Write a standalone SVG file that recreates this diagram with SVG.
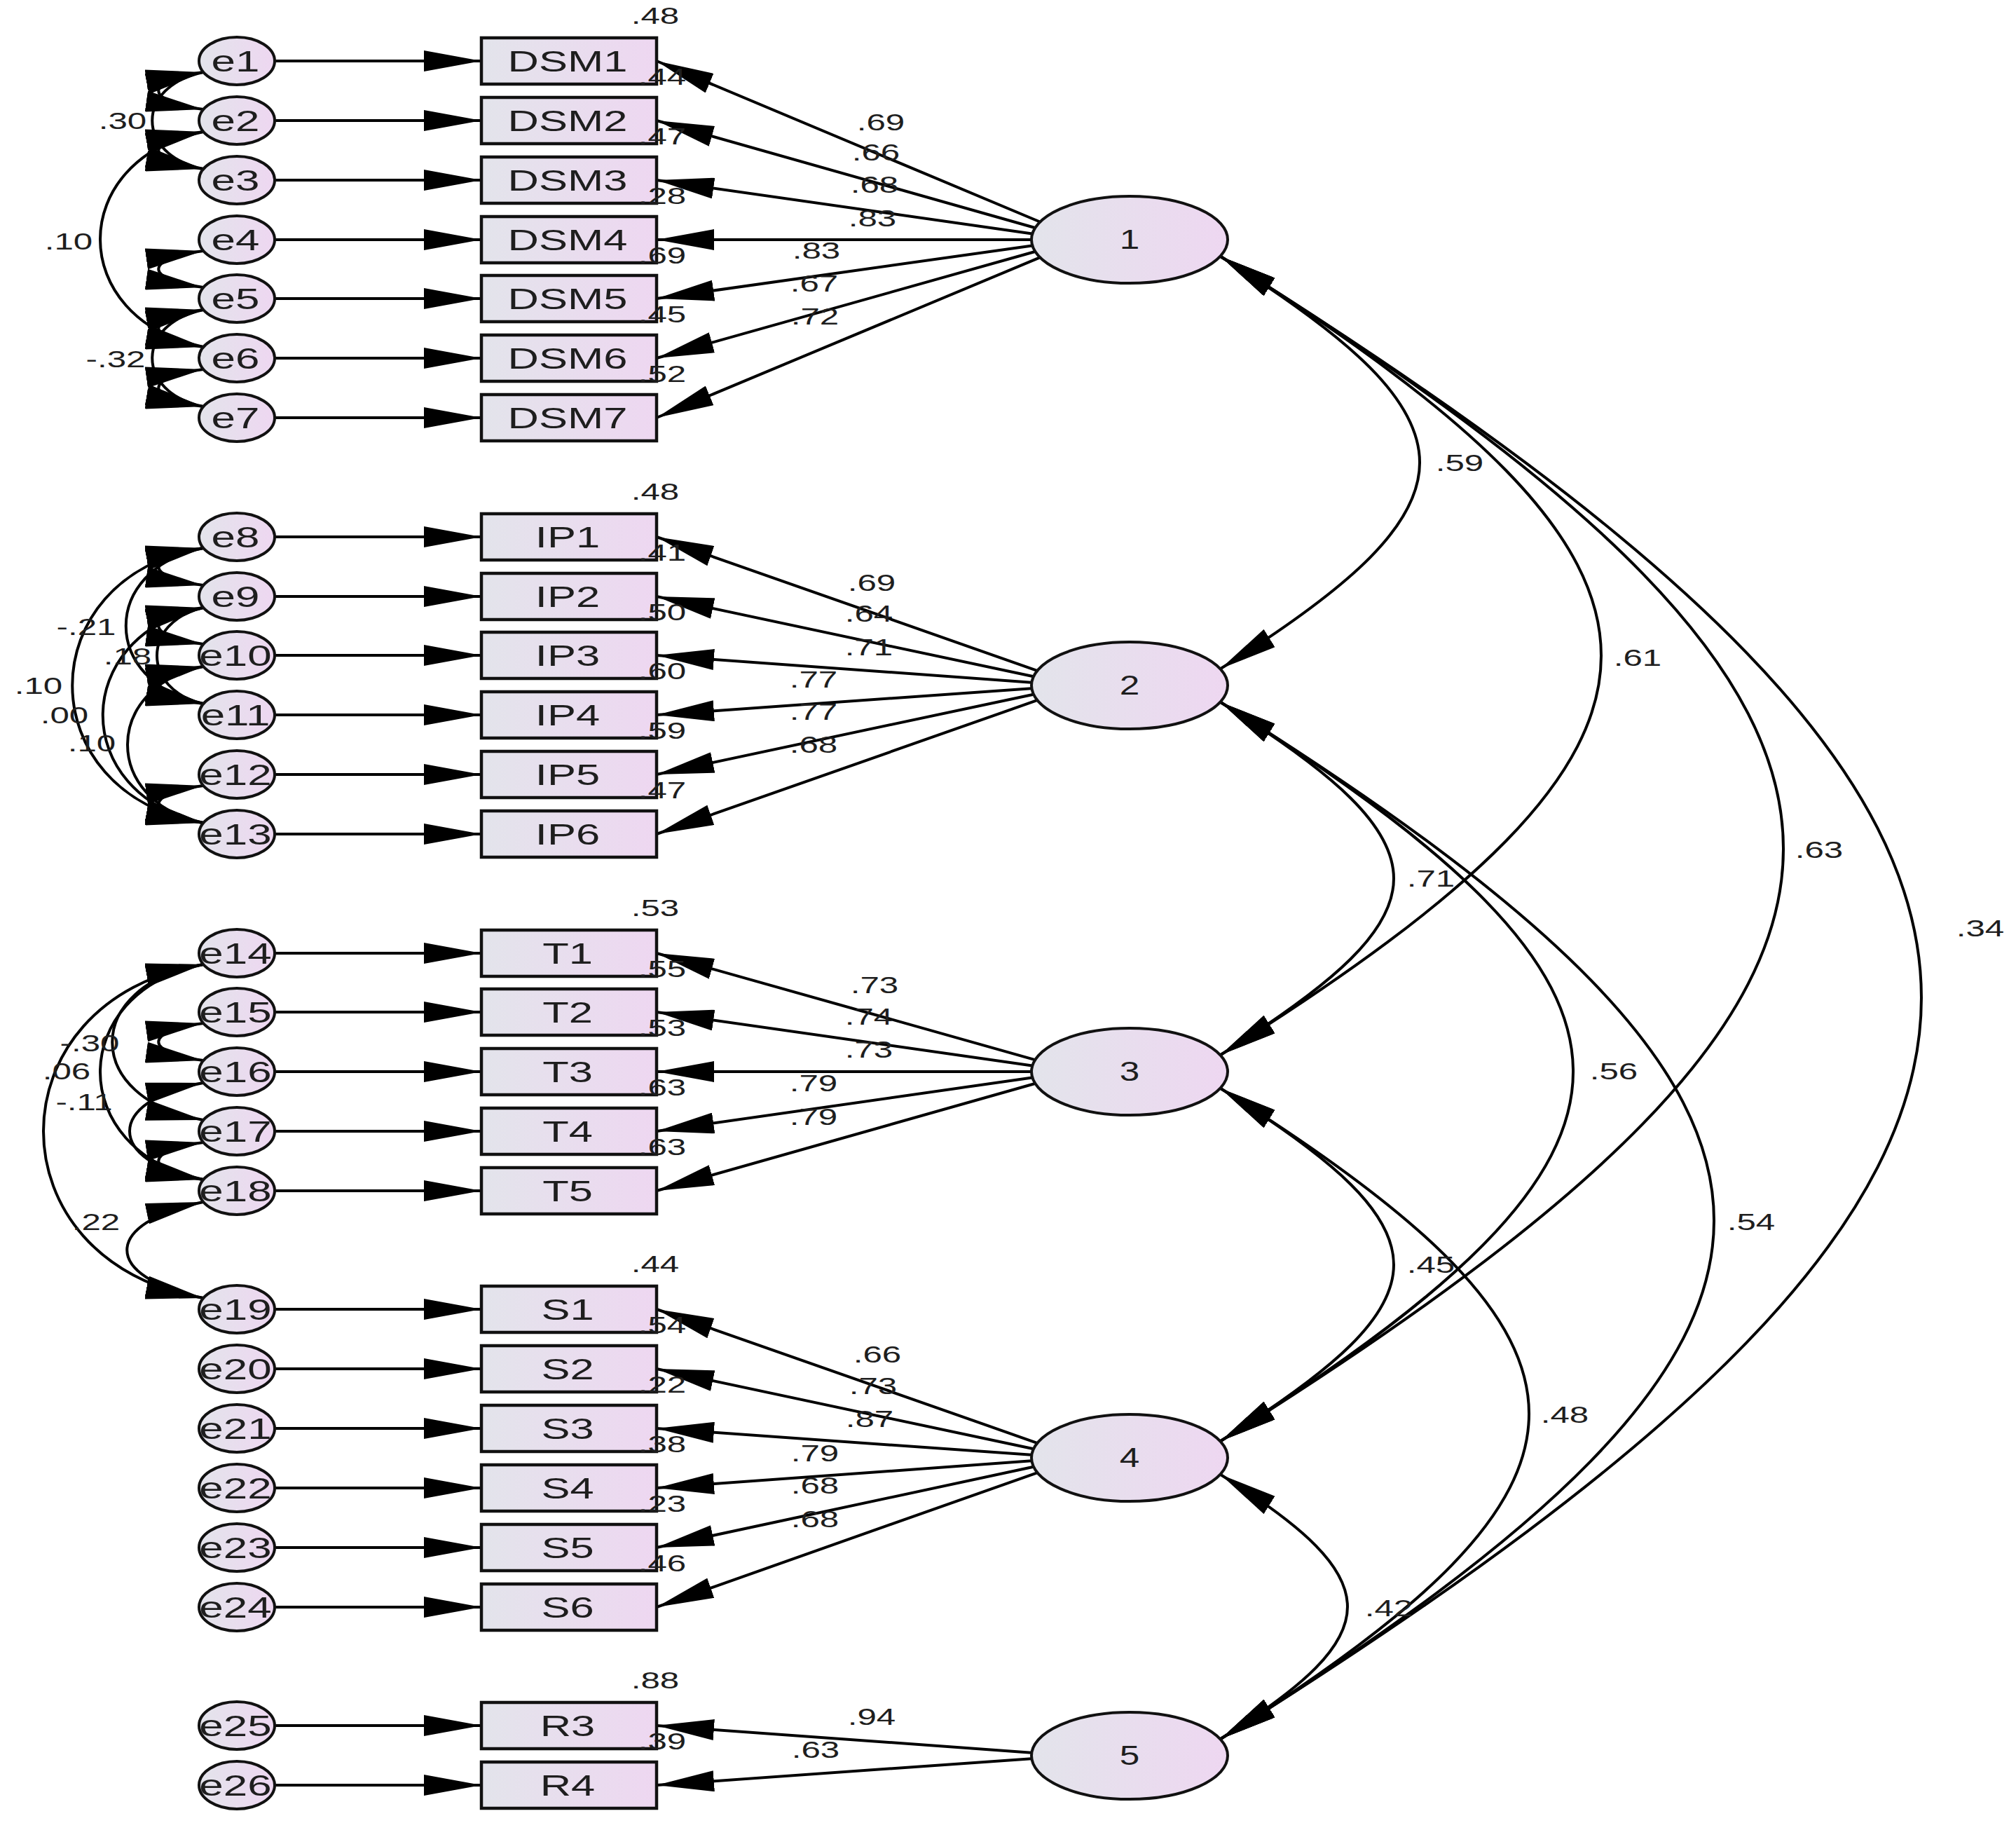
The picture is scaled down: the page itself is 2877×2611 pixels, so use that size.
<svg xmlns="http://www.w3.org/2000/svg" width="2877" height="2611" viewBox="0 0 2877 2611">
<defs>
<linearGradient id="fillg" x1="0" y1="0" x2="1" y2="0">
<stop offset="0" stop-color="#e3e4eb"/><stop offset="1" stop-color="#eed7f1"/>
</linearGradient>
<marker id="ah" markerUnits="userSpaceOnUse" viewBox="0 0 82 30" markerWidth="82" markerHeight="30" refX="82" refY="15" orient="auto-start-reverse"><path d="M0,0 L82,15 L0,30 Z" fill="#000"/></marker>
<style>
.ln{stroke:#000;stroke-width:4;fill:none}
.box{fill:url(#fillg);stroke:#111;stroke-width:4.5}
.ef{fill:url(#fillg);stroke:none}
.eo{fill:none;stroke:#111;stroke-width:4}
.lat{fill:url(#fillg);stroke:#111;stroke-width:4}
text{font-family:"Liberation Sans",Arial,sans-serif;fill:#1e1e1e;text-anchor:middle}
.nm{font-size:43px}
.num{font-size:34px}
.lt{font-size:38px}
</style>
</defs>
<rect width="2877" height="2611" fill="#fff"/>

<g id="connectors">
<!-- error to indicator -->
<path class="ln" d="M392,87 H687" marker-end="url(#ah)"/>
<path class="ln" d="M392,172 H687" marker-end="url(#ah)"/>
<path class="ln" d="M392,257 H687" marker-end="url(#ah)"/>
<path class="ln" d="M392,342 H687" marker-end="url(#ah)"/>
<path class="ln" d="M392,426 H687" marker-end="url(#ah)"/>
<path class="ln" d="M392,511 H687" marker-end="url(#ah)"/>
<path class="ln" d="M392,596 H687" marker-end="url(#ah)"/>
<path class="ln" d="M392,766 H687" marker-end="url(#ah)"/>
<path class="ln" d="M392,851 H687" marker-end="url(#ah)"/>
<path class="ln" d="M392,935 H687" marker-end="url(#ah)"/>
<path class="ln" d="M392,1020 H687" marker-end="url(#ah)"/>
<path class="ln" d="M392,1105 H687" marker-end="url(#ah)"/>
<path class="ln" d="M392,1190 H687" marker-end="url(#ah)"/>
<path class="ln" d="M392,1360 H687" marker-end="url(#ah)"/>
<path class="ln" d="M392,1444 H687" marker-end="url(#ah)"/>
<path class="ln" d="M392,1529 H687" marker-end="url(#ah)"/>
<path class="ln" d="M392,1614 H687" marker-end="url(#ah)"/>
<path class="ln" d="M392,1699 H687" marker-end="url(#ah)"/>
<path class="ln" d="M392,1868 H687" marker-end="url(#ah)"/>
<path class="ln" d="M392,1953 H687" marker-end="url(#ah)"/>
<path class="ln" d="M392,2038 H687" marker-end="url(#ah)"/>
<path class="ln" d="M392,2123 H687" marker-end="url(#ah)"/>
<path class="ln" d="M392,2208 H687" marker-end="url(#ah)"/>
<path class="ln" d="M392,2293 H687" marker-end="url(#ah)"/>
<path class="ln" d="M392,2462 H687" marker-end="url(#ah)"/>
<path class="ln" d="M392,2547 H687" marker-end="url(#ah)"/>
<!-- loadings factor 1 -->
<path class="ln" d="M1484,316.5 L937,87" marker-end="url(#ah)"/>
<path class="ln" d="M1477,325 L937,172" marker-end="url(#ah)"/>
<path class="ln" d="M1473,333.5 L937,257" marker-end="url(#ah)"/>
<path class="ln" d="M1472,342 L937,342" marker-end="url(#ah)"/>
<path class="ln" d="M1473,350.4 L937,426" marker-end="url(#ah)"/>
<path class="ln" d="M1477,359 L937,511" marker-end="url(#ah)"/>
<path class="ln" d="M1484,367.4 L937,596" marker-end="url(#ah)"/>
<!-- factor 2 -->
<path class="ln" d="M1480,956.8 L937,766" marker-end="url(#ah)"/>
<path class="ln" d="M1475,965.3 L937,851" marker-end="url(#ah)"/>
<path class="ln" d="M1472,973.7 L937,935" marker-end="url(#ah)"/>
<path class="ln" d="M1472,982.2 L937,1020" marker-end="url(#ah)"/>
<path class="ln" d="M1475,990.7 L937,1105" marker-end="url(#ah)"/>
<path class="ln" d="M1480,999.2 L937,1190" marker-end="url(#ah)"/>
<!-- factor 3 -->
<path class="ln" d="M1477,1512.1 L937,1360" marker-end="url(#ah)"/>
<path class="ln" d="M1473,1520.5 L937,1444" marker-end="url(#ah)"/>
<path class="ln" d="M1472,1529 L937,1529" marker-end="url(#ah)"/>
<path class="ln" d="M1473,1537.5 L937,1614" marker-end="url(#ah)"/>
<path class="ln" d="M1477,1546 L937,1699" marker-end="url(#ah)"/>
<!-- factor 4 -->
<path class="ln" d="M1480,2058.8 L937,1868" marker-end="url(#ah)"/>
<path class="ln" d="M1475,2067.3 L937,1953" marker-end="url(#ah)"/>
<path class="ln" d="M1472,2075.8 L937,2038" marker-end="url(#ah)"/>
<path class="ln" d="M1472,2084.3 L937,2123" marker-end="url(#ah)"/>
<path class="ln" d="M1475,2092.8 L937,2208" marker-end="url(#ah)"/>
<path class="ln" d="M1480,2101.3 L937,2293" marker-end="url(#ah)"/>
<!-- factor 5 -->
<path class="ln" d="M1472,2500.7 L937,2462" marker-end="url(#ah)"/>
<path class="ln" d="M1472,2509.2 L937,2547" marker-end="url(#ah)"/>
<!-- factor covariances -->
<path class="ln" d="M1742,366 C2120.7,602.7 2120.7,717.3 1742,954" marker-start="url(#ah)" marker-end="url(#ah)"/>
<path class="ln" d="M1742,366 C2466,818.5 2466,1052.5 1742,1505" marker-start="url(#ah)" marker-end="url(#ah)"/>
<path class="ln" d="M1742,366 C2812.7,1035.2 2812.7,1386.8 1742,2056" marker-start="url(#ah)" marker-end="url(#ah)"/>
<path class="ln" d="M1742,366 C3075.3,1199.3 3075.3,1647.7 1742,2481" marker-start="url(#ah)" marker-end="url(#ah)"/>
<path class="ln" d="M1742,1002 C2071.3,1207.8 2071.3,1299.2 1742,1505" marker-start="url(#ah)" marker-end="url(#ah)"/>
<path class="ln" d="M1742,1002 C2412.7,1421.2 2412.7,1636.8 1742,2056" marker-start="url(#ah)" marker-end="url(#ah)"/>
<path class="ln" d="M1742,1002 C2680.7,1588.7 2680.7,1894.3 1742,2481" marker-start="url(#ah)" marker-end="url(#ah)"/>
<path class="ln" d="M1742,1553 C2071.3,1758.8 2071.3,1850.2 1742,2056" marker-start="url(#ah)" marker-end="url(#ah)"/>
<path class="ln" d="M1742,1553 C2328.7,1919.7 2328.7,2114.3 1742,2481" marker-start="url(#ah)" marker-end="url(#ah)"/>
<path class="ln" d="M1742,2104 C1983.3,2254.8 1983.3,2330.2 1742,2481" marker-start="url(#ah)" marker-end="url(#ah)"/>
<!-- error covariances DSM -->
<path class="ln" d="M290,103 C205,115 205,144 290,156" marker-start="url(#ah)" marker-end="url(#ah)"/>
<path class="ln" d="M290,188 C205,200 205,229 290,241" marker-start="url(#ah)" marker-end="url(#ah)"/>
<path class="ln" d="M290,358 C205,370 205,398 290,410" marker-start="url(#ah)" marker-end="url(#ah)"/>
<path class="ln" d="M290,442 C205,454 205,483 290,495" marker-start="url(#ah)" marker-end="url(#ah)"/>
<path class="ln" d="M290,527 C205,539 205,568 290,580" marker-start="url(#ah)" marker-end="url(#ah)"/>
<path class="ln" d="M290,103 C193,123 193,221 290,241" marker-start="url(#ah)" marker-end="url(#ah)"/>
<path class="ln" d="M290,188 C94,228 94,455 290,495" marker-start="url(#ah)" marker-end="url(#ah)"/>
<path class="ln" d="M290,442 C193,462 193,560 290,580" marker-start="url(#ah)" marker-end="url(#ah)"/>
<!-- error covariances IP -->
<path class="ln" d="M290,782 C205,794 205,823 290,835" marker-start="url(#ah)" marker-end="url(#ah)"/>
<path class="ln" d="M290,867 C205,879 205,907 290,919" marker-start="url(#ah)" marker-end="url(#ah)"/>
<path class="ln" d="M290,951 C205,963 205,992 290,1004" marker-start="url(#ah)" marker-end="url(#ah)"/>
<path class="ln" d="M290,1121 C205,1133 205,1162 290,1174" marker-start="url(#ah)" marker-end="url(#ah)"/>
<path class="ln" d="M290,782 C41,822 41,1134 290,1174" marker-start="url(#ah)" marker-end="url(#ah)"/>
<path class="ln" d="M290,867 C99,907 99,1134 290,1174" marker-start="url(#ah)" marker-end="url(#ah)"/>
<path class="ln" d="M290,782 C143,812 143,974 290,1004" marker-start="url(#ah)" marker-end="url(#ah)"/>
<path class="ln" d="M290,867 C202,887 202,984 290,1004" marker-start="url(#ah)" marker-end="url(#ah)"/>
<path class="ln" d="M290,951 C146,981 146,1144 290,1174" marker-start="url(#ah)" marker-end="url(#ah)"/>
<!-- error covariances T -->
<path class="ln" d="M290,1460 C205,1472 205,1501 290,1513" marker-start="url(#ah)" marker-end="url(#ah)"/>
<path class="ln" d="M290,1630 C205,1642 205,1671 290,1683" marker-start="url(#ah)" marker-end="url(#ah)"/>
<path class="ln" d="M290,1376 C-14,1426 -14,1802 290,1852" marker-start="url(#ah)" marker-end="url(#ah)"/>
<path class="ln" d="M290,1376 C94,1416 94,1643 290,1683" marker-start="url(#ah)" marker-end="url(#ah)"/>
<path class="ln" d="M290,1376 C117,1406 117,1568 290,1598" marker-start="url(#ah)" marker-end="url(#ah)"/>
<path class="ln" d="M290,1715 C145,1745 145,1822 290,1852" marker-start="url(#ah)" marker-end="url(#ah)"/>
<path class="ln" d="M290,1545 C150,1570 150,1658 290,1683" marker-start="url(#ah)" marker-end="url(#ah)"/>
</g>

<g id="errors">
<g id="e1"><ellipse class="ef" cx="338" cy="87" rx="54" ry="34"/><text class="nm" transform="translate(336,102) scale(1.44,1)">e1</text><ellipse class="eo" cx="338" cy="87" rx="54" ry="34"/></g>
<g id="e2"><ellipse class="ef" cx="338" cy="172" rx="54" ry="34"/><text class="nm" transform="translate(336,187) scale(1.44,1)">e2</text><ellipse class="eo" cx="338" cy="172" rx="54" ry="34"/></g>
<g id="e3"><ellipse class="ef" cx="338" cy="257" rx="54" ry="34"/><text class="nm" transform="translate(336,272) scale(1.44,1)">e3</text><ellipse class="eo" cx="338" cy="257" rx="54" ry="34"/></g>
<g id="e4"><ellipse class="ef" cx="338" cy="342" rx="54" ry="34"/><text class="nm" transform="translate(336,357) scale(1.44,1)">e4</text><ellipse class="eo" cx="338" cy="342" rx="54" ry="34"/></g>
<g id="e5"><ellipse class="ef" cx="338" cy="426" rx="54" ry="34"/><text class="nm" transform="translate(336,441) scale(1.44,1)">e5</text><ellipse class="eo" cx="338" cy="426" rx="54" ry="34"/></g>
<g id="e6"><ellipse class="ef" cx="338" cy="511" rx="54" ry="34"/><text class="nm" transform="translate(336,526) scale(1.44,1)">e6</text><ellipse class="eo" cx="338" cy="511" rx="54" ry="34"/></g>
<g id="e7"><ellipse class="ef" cx="338" cy="596" rx="54" ry="34"/><text class="nm" transform="translate(336,611) scale(1.44,1)">e7</text><ellipse class="eo" cx="338" cy="596" rx="54" ry="34"/></g>
<g id="e8"><ellipse class="ef" cx="338" cy="766" rx="54" ry="34"/><text class="nm" transform="translate(336,781) scale(1.44,1)">e8</text><ellipse class="eo" cx="338" cy="766" rx="54" ry="34"/></g>
<g id="e9"><ellipse class="ef" cx="338" cy="851" rx="54" ry="34"/><text class="nm" transform="translate(336,866) scale(1.44,1)">e9</text><ellipse class="eo" cx="338" cy="851" rx="54" ry="34"/></g>
<g id="e10"><ellipse class="ef" cx="338" cy="935" rx="54" ry="34"/><text class="nm" transform="translate(336,950) scale(1.44,1)">e10</text><ellipse class="eo" cx="338" cy="935" rx="54" ry="34"/></g>
<g id="e11"><ellipse class="ef" cx="338" cy="1020" rx="54" ry="34"/><text class="nm" transform="translate(336,1035) scale(1.44,1)">e11</text><ellipse class="eo" cx="338" cy="1020" rx="54" ry="34"/></g>
<g id="e12"><ellipse class="ef" cx="338" cy="1105" rx="54" ry="34"/><text class="nm" transform="translate(336,1120) scale(1.44,1)">e12</text><ellipse class="eo" cx="338" cy="1105" rx="54" ry="34"/></g>
<g id="e13"><ellipse class="ef" cx="338" cy="1190" rx="54" ry="34"/><text class="nm" transform="translate(336,1205) scale(1.44,1)">e13</text><ellipse class="eo" cx="338" cy="1190" rx="54" ry="34"/></g>
<g id="e14"><ellipse class="ef" cx="338" cy="1360" rx="54" ry="34"/><text class="nm" transform="translate(336,1375) scale(1.44,1)">e14</text><ellipse class="eo" cx="338" cy="1360" rx="54" ry="34"/></g>
<g id="e15"><ellipse class="ef" cx="338" cy="1444" rx="54" ry="34"/><text class="nm" transform="translate(336,1459) scale(1.44,1)">e15</text><ellipse class="eo" cx="338" cy="1444" rx="54" ry="34"/></g>
<g id="e16"><ellipse class="ef" cx="338" cy="1529" rx="54" ry="34"/><text class="nm" transform="translate(336,1544) scale(1.44,1)">e16</text><ellipse class="eo" cx="338" cy="1529" rx="54" ry="34"/></g>
<g id="e17"><ellipse class="ef" cx="338" cy="1614" rx="54" ry="34"/><text class="nm" transform="translate(336,1629) scale(1.44,1)">e17</text><ellipse class="eo" cx="338" cy="1614" rx="54" ry="34"/></g>
<g id="e18"><ellipse class="ef" cx="338" cy="1699" rx="54" ry="34"/><text class="nm" transform="translate(336,1714) scale(1.44,1)">e18</text><ellipse class="eo" cx="338" cy="1699" rx="54" ry="34"/></g>
<g id="e19"><ellipse class="ef" cx="338" cy="1868" rx="54" ry="34"/><text class="nm" transform="translate(336,1883) scale(1.44,1)">e19</text><ellipse class="eo" cx="338" cy="1868" rx="54" ry="34"/></g>
<g id="e20"><ellipse class="ef" cx="338" cy="1953" rx="54" ry="34"/><text class="nm" transform="translate(336,1968) scale(1.44,1)">e20</text><ellipse class="eo" cx="338" cy="1953" rx="54" ry="34"/></g>
<g id="e21"><ellipse class="ef" cx="338" cy="2038" rx="54" ry="34"/><text class="nm" transform="translate(336,2053) scale(1.44,1)">e21</text><ellipse class="eo" cx="338" cy="2038" rx="54" ry="34"/></g>
<g id="e22"><ellipse class="ef" cx="338" cy="2123" rx="54" ry="34"/><text class="nm" transform="translate(336,2138) scale(1.44,1)">e22</text><ellipse class="eo" cx="338" cy="2123" rx="54" ry="34"/></g>
<g id="e23"><ellipse class="ef" cx="338" cy="2208" rx="54" ry="34"/><text class="nm" transform="translate(336,2223) scale(1.44,1)">e23</text><ellipse class="eo" cx="338" cy="2208" rx="54" ry="34"/></g>
<g id="e24"><ellipse class="ef" cx="338" cy="2293" rx="54" ry="34"/><text class="nm" transform="translate(336,2308) scale(1.44,1)">e24</text><ellipse class="eo" cx="338" cy="2293" rx="54" ry="34"/></g>
<g id="e25"><ellipse class="ef" cx="338" cy="2462" rx="54" ry="34"/><text class="nm" transform="translate(336,2477) scale(1.44,1)">e25</text><ellipse class="eo" cx="338" cy="2462" rx="54" ry="34"/></g>
<g id="e26"><ellipse class="ef" cx="338" cy="2547" rx="54" ry="34"/><text class="nm" transform="translate(336,2562) scale(1.44,1)">e26</text><ellipse class="eo" cx="338" cy="2547" rx="54" ry="34"/></g>
</g>

<g id="indicators">
<g id="DSM1"><rect class="box" x="687" y="54" width="250" height="66"/><text class="nm" transform="translate(810,102) scale(1.43,1)">DSM1</text></g>
<g id="DSM2"><rect class="box" x="687" y="139" width="250" height="66"/><text class="nm" transform="translate(810,187) scale(1.43,1)">DSM2</text></g>
<g id="DSM3"><rect class="box" x="687" y="224" width="250" height="66"/><text class="nm" transform="translate(810,272) scale(1.43,1)">DSM3</text></g>
<g id="DSM4"><rect class="box" x="687" y="309" width="250" height="66"/><text class="nm" transform="translate(810,357) scale(1.43,1)">DSM4</text></g>
<g id="DSM5"><rect class="box" x="687" y="393" width="250" height="66"/><text class="nm" transform="translate(810,441) scale(1.43,1)">DSM5</text></g>
<g id="DSM6"><rect class="box" x="687" y="478" width="250" height="66"/><text class="nm" transform="translate(810,526) scale(1.43,1)">DSM6</text></g>
<g id="DSM7"><rect class="box" x="687" y="563" width="250" height="66"/><text class="nm" transform="translate(810,611) scale(1.43,1)">DSM7</text></g>
<g id="IP1"><rect class="box" x="687" y="733" width="250" height="66"/><text class="nm" transform="translate(810,781) scale(1.43,1)">IP1</text></g>
<g id="IP2"><rect class="box" x="687" y="818" width="250" height="66"/><text class="nm" transform="translate(810,866) scale(1.43,1)">IP2</text></g>
<g id="IP3"><rect class="box" x="687" y="902" width="250" height="66"/><text class="nm" transform="translate(810,950) scale(1.43,1)">IP3</text></g>
<g id="IP4"><rect class="box" x="687" y="987" width="250" height="66"/><text class="nm" transform="translate(810,1035) scale(1.43,1)">IP4</text></g>
<g id="IP5"><rect class="box" x="687" y="1072" width="250" height="66"/><text class="nm" transform="translate(810,1120) scale(1.43,1)">IP5</text></g>
<g id="IP6"><rect class="box" x="687" y="1157" width="250" height="66"/><text class="nm" transform="translate(810,1205) scale(1.43,1)">IP6</text></g>
<g id="T1"><rect class="box" x="687" y="1327" width="250" height="66"/><text class="nm" transform="translate(810,1375) scale(1.43,1)">T1</text></g>
<g id="T2"><rect class="box" x="687" y="1411" width="250" height="66"/><text class="nm" transform="translate(810,1459) scale(1.43,1)">T2</text></g>
<g id="T3"><rect class="box" x="687" y="1496" width="250" height="66"/><text class="nm" transform="translate(810,1544) scale(1.43,1)">T3</text></g>
<g id="T4"><rect class="box" x="687" y="1581" width="250" height="66"/><text class="nm" transform="translate(810,1629) scale(1.43,1)">T4</text></g>
<g id="T5"><rect class="box" x="687" y="1666" width="250" height="66"/><text class="nm" transform="translate(810,1714) scale(1.43,1)">T5</text></g>
<g id="S1"><rect class="box" x="687" y="1835" width="250" height="66"/><text class="nm" transform="translate(810,1883) scale(1.43,1)">S1</text></g>
<g id="S2"><rect class="box" x="687" y="1920" width="250" height="66"/><text class="nm" transform="translate(810,1968) scale(1.43,1)">S2</text></g>
<g id="S3"><rect class="box" x="687" y="2005" width="250" height="66"/><text class="nm" transform="translate(810,2053) scale(1.43,1)">S3</text></g>
<g id="S4"><rect class="box" x="687" y="2090" width="250" height="66"/><text class="nm" transform="translate(810,2138) scale(1.43,1)">S4</text></g>
<g id="S5"><rect class="box" x="687" y="2175" width="250" height="66"/><text class="nm" transform="translate(810,2223) scale(1.43,1)">S5</text></g>
<g id="S6"><rect class="box" x="687" y="2260" width="250" height="66"/><text class="nm" transform="translate(810,2308) scale(1.43,1)">S6</text></g>
<g id="R3"><rect class="box" x="687" y="2429" width="250" height="66"/><text class="nm" transform="translate(810,2477) scale(1.43,1)">R3</text></g>
<g id="R4"><rect class="box" x="687" y="2514" width="250" height="66"/><text class="nm" transform="translate(810,2562) scale(1.43,1)">R4</text></g>
</g>

<g id="factors">
<g id="F1"><ellipse class="lat" cx="1612" cy="342" rx="140" ry="62"/><text class="lt" transform="translate(1612,355) scale(1.35,1)">1</text></g>
<g id="F2"><ellipse class="lat" cx="1612" cy="978" rx="140" ry="62"/><text class="lt" transform="translate(1612,991) scale(1.35,1)">2</text></g>
<g id="F3"><ellipse class="lat" cx="1612" cy="1529" rx="140" ry="62"/><text class="lt" transform="translate(1612,1542) scale(1.35,1)">3</text></g>
<g id="F4"><ellipse class="lat" cx="1612" cy="2080" rx="140" ry="62"/><text class="lt" transform="translate(1612,2093) scale(1.35,1)">4</text></g>
<g id="F5"><ellipse class="lat" cx="1612" cy="2505" rx="140" ry="62"/><text class="lt" transform="translate(1612,2518) scale(1.35,1)">5</text></g>
</g>

<g id="labels" class="num">
<!-- R squared, top -->
<text class="num" transform="translate(935,34) scale(1.45,1)">.48</text>
<text class="num" transform="translate(935,713) scale(1.45,1)">.48</text>
<text class="num" transform="translate(935,1307) scale(1.45,1)">.53</text>
<text class="num" transform="translate(935,1815) scale(1.45,1)">.44</text>
<text class="num" transform="translate(935,2409) scale(1.45,1)">.88</text>
<!-- R squared, corner -->
<text class="num" transform="translate(945,121) scale(1.45,1)">.44</text>
<text class="num" transform="translate(945,206) scale(1.45,1)">.47</text>
<text class="num" transform="translate(945,291) scale(1.45,1)">.28</text>
<text class="num" transform="translate(945,376) scale(1.45,1)">.69</text>
<text class="num" transform="translate(945,460) scale(1.45,1)">.45</text>
<text class="num" transform="translate(945,545) scale(1.45,1)">.52</text>
<text class="num" transform="translate(945,800) scale(1.45,1)">.41</text>
<text class="num" transform="translate(945,885) scale(1.45,1)">.50</text>
<text class="num" transform="translate(945,969) scale(1.45,1)">.60</text>
<text class="num" transform="translate(945,1054) scale(1.45,1)">.59</text>
<text class="num" transform="translate(945,1139) scale(1.45,1)">.47</text>
<text class="num" transform="translate(945,1394) scale(1.45,1)">.55</text>
<text class="num" transform="translate(945,1478) scale(1.45,1)">.53</text>
<text class="num" transform="translate(945,1563) scale(1.45,1)">.63</text>
<text class="num" transform="translate(945,1648) scale(1.45,1)">.63</text>
<text class="num" transform="translate(945,1902) scale(1.45,1)">.54</text>
<text class="num" transform="translate(945,1987) scale(1.45,1)">.22</text>
<text class="num" transform="translate(945,2072) scale(1.45,1)">.38</text>
<text class="num" transform="translate(945,2157) scale(1.45,1)">.23</text>
<text class="num" transform="translate(945,2242) scale(1.45,1)">.46</text>
<text class="num" transform="translate(945,2496) scale(1.45,1)">.39</text>
<!-- loadings -->
<text class="num" transform="translate(1257,186) scale(1.45,1)">.69</text>
<text class="num" transform="translate(1250,229) scale(1.45,1)">.66</text>
<text class="num" transform="translate(1248,275) scale(1.45,1)">.68</text>
<text class="num" transform="translate(1245,323) scale(1.45,1)">.83</text>
<text class="num" transform="translate(1165,369) scale(1.45,1)">.83</text>
<text class="num" transform="translate(1162,416) scale(1.45,1)">.67</text>
<text class="num" transform="translate(1163,463) scale(1.45,1)">.72</text>
<text class="num" transform="translate(1244,843) scale(1.45,1)">.69</text>
<text class="num" transform="translate(1240,887) scale(1.45,1)">.64</text>
<text class="num" transform="translate(1240,935) scale(1.45,1)">.71</text>
<text class="num" transform="translate(1161,981) scale(1.45,1)">.77</text>
<text class="num" transform="translate(1161,1027) scale(1.45,1)">.77</text>
<text class="num" transform="translate(1161,1074) scale(1.45,1)">.68</text>
<text class="num" transform="translate(1248,1417) scale(1.45,1)">.73</text>
<text class="num" transform="translate(1240,1462) scale(1.45,1)">.74</text>
<text class="num" transform="translate(1240,1509) scale(1.45,1)">.73</text>
<text class="num" transform="translate(1161,1557) scale(1.45,1)">.79</text>
<text class="num" transform="translate(1161,1605) scale(1.45,1)">.79</text>
<text class="num" transform="translate(1252,1944) scale(1.45,1)">.66</text>
<text class="num" transform="translate(1246,1989) scale(1.45,1)">.73</text>
<text class="num" transform="translate(1241,2036) scale(1.45,1)">.87</text>
<text class="num" transform="translate(1163,2085) scale(1.45,1)">.79</text>
<text class="num" transform="translate(1163,2131) scale(1.45,1)">.68</text>
<text class="num" transform="translate(1163,2179) scale(1.45,1)">.68</text>
<text class="num" transform="translate(1244,2461) scale(1.45,1)">.94</text>
<text class="num" transform="translate(1164,2508) scale(1.45,1)">.63</text>
<!-- factor correlations -->
<text class="num" transform="translate(2083,672) scale(1.45,1)">.59</text>
<text class="num" transform="translate(2337,950) scale(1.45,1)">.61</text>
<text class="num" transform="translate(2596,1224) scale(1.45,1)">.63</text>
<text class="num" transform="translate(2826,1336) scale(1.45,1)">.34</text>
<text class="num" transform="translate(2042,1265) scale(1.45,1)">.71</text>
<text class="num" transform="translate(2303,1540) scale(1.45,1)">.56</text>
<text class="num" transform="translate(2499,1755) scale(1.45,1)">.54</text>
<text class="num" transform="translate(2042,1816) scale(1.45,1)">.45</text>
<text class="num" transform="translate(2233,2030) scale(1.45,1)">.48</text>
<text class="num" transform="translate(1982,2306) scale(1.45,1)">.42</text>
<!-- error correlations -->
<text class="num" transform="translate(175,184) scale(1.45,1)">.30</text>
<text class="num" transform="translate(98,356) scale(1.45,1)">.10</text>
<text class="num" transform="translate(165,524) scale(1.45,1)">-.32</text>
<text class="num" transform="translate(123,906) scale(1.45,1)">-.21</text>
<text class="num" transform="translate(182,948) scale(1.45,1)">.18</text>
<text class="num" transform="translate(55,990) scale(1.45,1)">.10</text>
<text class="num" transform="translate(92,1032) scale(1.45,1)">.00</text>
<text class="num" transform="translate(131,1072) scale(1.45,1)">.10</text>
<text class="num" transform="translate(128,1500) scale(1.45,1)">-.30</text>
<text class="num" transform="translate(95,1540) scale(1.45,1)">.06</text>
<text class="num" transform="translate(120,1584) scale(1.45,1)">-.11</text>
<text class="num" transform="translate(137,1755) scale(1.45,1)">.22</text>
</g>
</svg>
